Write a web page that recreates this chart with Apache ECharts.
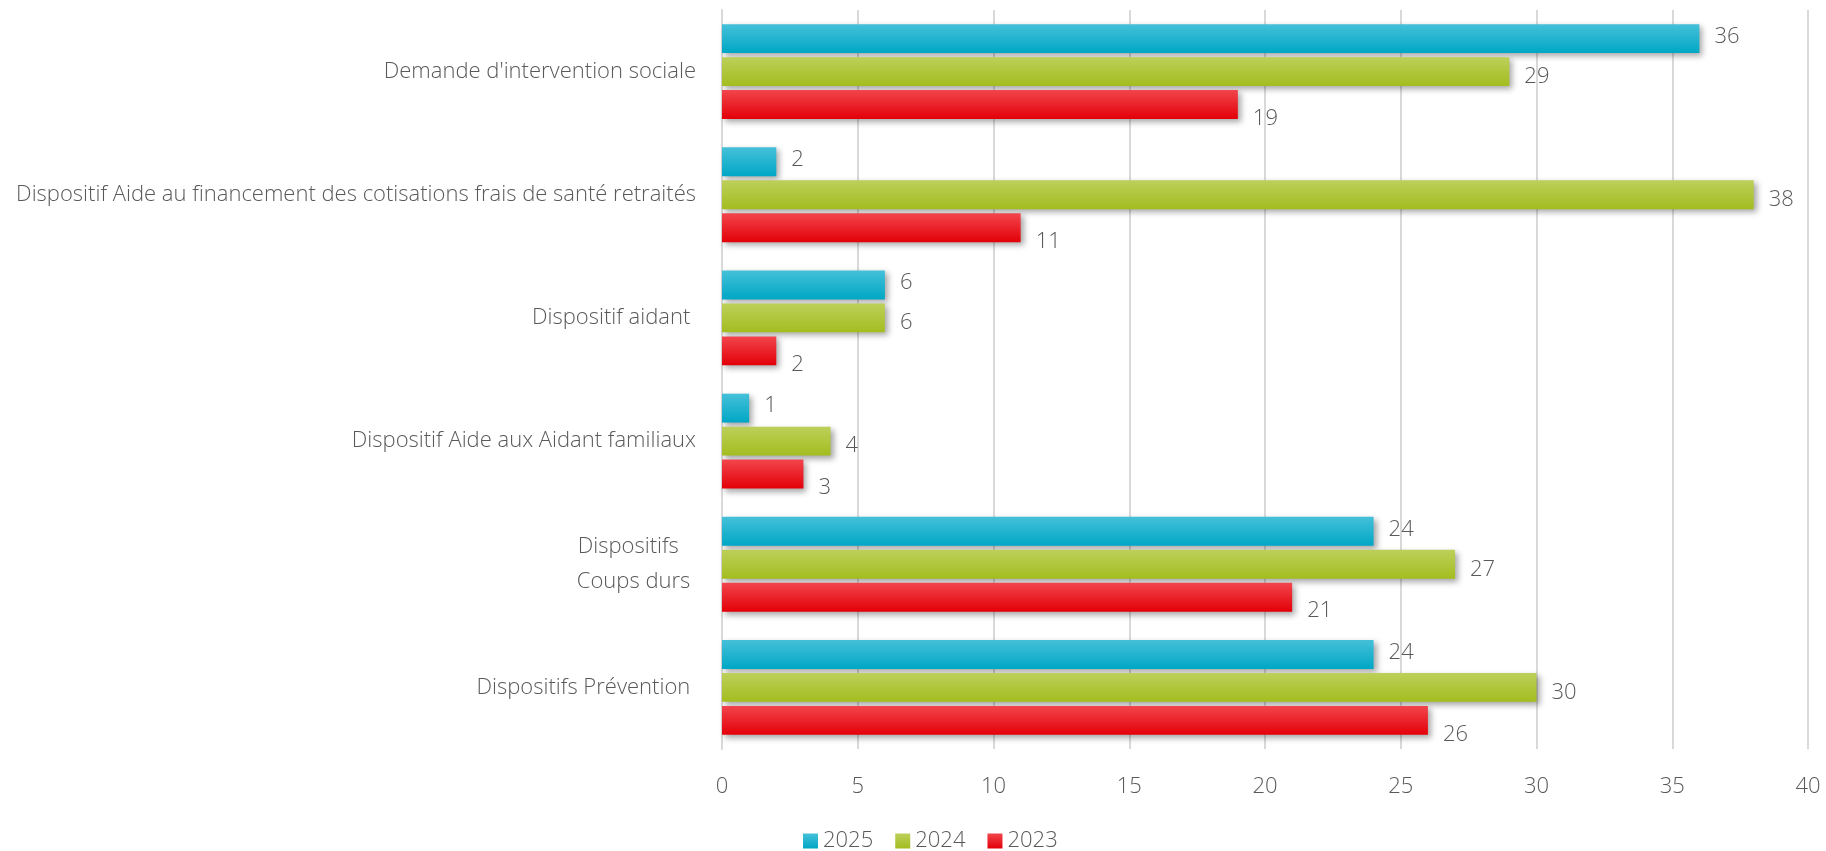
<!DOCTYPE html>
<html>
<head>
<meta charset="utf-8">
<script src="https://cdn.jsdelivr.net/npm/echarts@6/dist/echarts.min.js"></script>
<style>
html,body{margin:0;padding:0;background:#fff;}
#chart{width:1826px;height:851px;}
</style>
</head>
<body>
<div id="chart"></div>
<script>
const categories = [
  "Demande d'intervention sociale",
  "Dispositif Aide au financement des cotisations frais de santé retraités",
  "Dispositif aidant ",
  "Dispositif Aide aux Aidant familiaux",
  "Dispositifs   \nCoups durs ",
  "Dispositifs Prévention "
];
const seriesNames = ["2025", "2024", "2023"];
const values2025 = [36, 2, 6, 1, 24, 24];
const values2024 = [29, 38, 6, 4, 27, 30];
const values2023 = [19, 11, 2, 3, 21, 26];
const xTicks = { min: 0, max: 40, interval: 5 };

const FONT = "'Open Sans', 'Lato', sans-serif";
const TXT = '#595959';

function grad(top, bottom) {
  return new echarts.graphic.LinearGradient(0, 0, 0, 1, [
    { offset: 0, color: top },
    { offset: 1, color: bottom }
  ]);
}
const fills = [
  grad('#45c0d9', '#00a7c5'),
  grad('#bcd05a', '#a3bd1f'),
  grad('#f2454c', '#e30008')
];
const labelOffsets = [[0, -2], [0, 5], [0, 14]];
const valueSets = [values2025, values2024, values2023];

const series = seriesNames.map((name, i) => ({
  name: name,
  type: 'bar',
  data: valueSets[i],
  barGap: '14%',
  barCategoryGap: '23%',
  itemStyle: {
    color: fills[i],
    shadowColor: 'rgba(0,0,0,0.35)',
    shadowBlur: 6,
    shadowOffsetX: 3,
    shadowOffsetY: 3
  },
  label: {
    show: true,
    position: 'right',
    distance: 15,
    offset: labelOffsets[i],
    color: TXT,
    fontFamily: FONT,
    fontWeight: 300,
    fontSize: 22
  }
}));

const chart = echarts.init(document.getElementById('chart'), null, { renderer: 'canvas' });
chart.setOption({
  animation: false,
  backgroundColor: '#ffffff',
  textStyle: { fontFamily: FONT, fontWeight: 300, color: TXT },
  grid: { left: 722, right: 18, top: 10, bottom: 102, containLabel: false },
  legend: {
    left: 798,
    top: 825,
    itemWidth: 15,
    itemHeight: 15,
    itemGap: 22,
    icon: 'rect',
    textStyle: { color: TXT, fontFamily: FONT, fontWeight: 300, fontSize: 22 },
    data: seriesNames
  },
  xAxis: {
    type: 'value',
    min: xTicks.min,
    max: xTicks.max,
    interval: xTicks.interval,
    axisLine: { show: false },
    axisTick: { show: false },
    splitLine: { show: true, lineStyle: { color: '#d9d9d9', width: 2 } },
    axisLabel: { color: TXT, fontFamily: FONT, fontWeight: 300, fontSize: 22, margin: 27 }
  },
  yAxis: {
    type: 'category',
    inverse: true,
    data: categories,
    axisLine: { show: true, lineStyle: { color: '#d9d9d9', width: 2 } },
    axisTick: { show: false },
    axisLabel: {
      color: TXT, fontFamily: FONT, fontWeight: 300, fontSize: 22, margin: 26,
      lineHeight: 35, align: 'right'
    }
  },
  series: series
});
</script>
</body>
</html>
